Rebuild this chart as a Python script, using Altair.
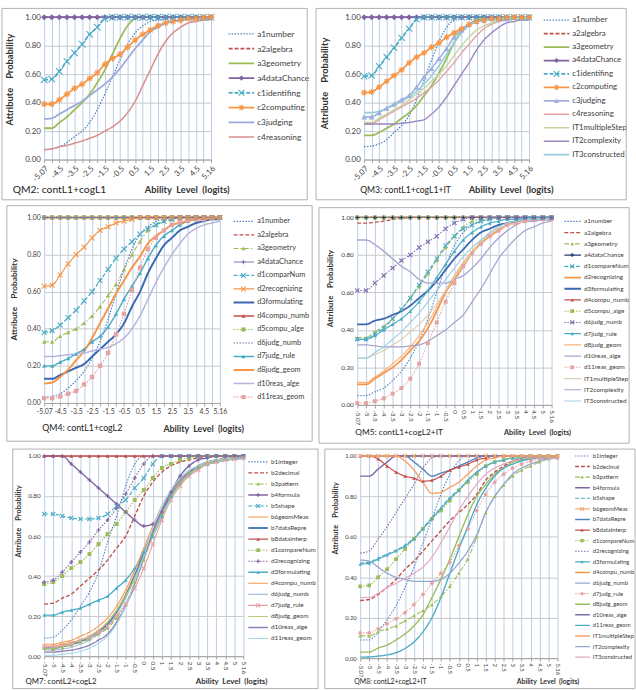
import altair as alt
import pandas as pd

FONT = "Lato"
TXT = "#404040"

X_LABELS = ["-5.07", "-5", "-4.5", "-4", "-3.5", "-3", "-2.5", "-2", "-1.5", "-1", "-0.5", "0",
            "0.5", "1", "1.5", "2", "2.5", "3", "3.5", "4", "4.5", "5", "5.16"]
ALT_LABELS = ["-5.07", "-4.5", "-3.5", "-2.5", "-1.5", "-0.5", "0.5", "1.5", "2.5", "3.5", "4.5", "5.16"]

# ---------------- QM2 ----------------
QM2_NAMES = ["a1number", "a2algebra", "a3geometry", "a4dataChance", "c1identifing", "c2computing",
             "c3judging", "c4reasoning"]
QM2_VALUES = {
    "a1number": [0.07, 0.075, 0.09, 0.12, 0.16, 0.20, 0.26, 0.35, 0.46, 0.58, 0.70, 0.81, 0.89, 0.94, 0.97, 0.98, 0.99, 0.995, 1, 1, 1, 1, 1],
    "a2algebra": [1, 1, 1, 1, 1, 1, 1, 1, 1, 1, 1, 1, 1, 1, 1, 1, 1, 1, 1, 1, 1, 1, 1],
    "a3geometry": [0.22, 0.22, 0.26, 0.30, 0.35, 0.40, 0.46, 0.54, 0.63, 0.74, 0.85, 0.94, 0.99, 1, 1, 1, 1, 1, 1, 1, 1, 1, 1],
    "a4dataChance": [1, 1, 1, 1, 1, 1, 1, 1, 1, 1, 1, 1, 1, 1, 1, 1, 1, 1, 1, 1, 1, 1, 1],
    "c1identifing": [0.56, 0.565, 0.62, 0.69, 0.75, 0.81, 0.88, 0.93, 0.99, 1, 1, 1, 1, 1, 1, 1, 1, 1, 1, 1, 1, 1, 1],
    "c2computing": [0.39, 0.39, 0.42, 0.46, 0.50, 0.53, 0.57, 0.61, 0.67, 0.71, 0.74, 0.79, 0.84, 0.88, 0.91, 0.94, 0.96, 0.97, 0.98, 0.99, 0.99, 1, 1],
    "c3judging": [0.285, 0.29, 0.32, 0.35, 0.38, 0.41, 0.45, 0.49, 0.53, 0.58, 0.64, 0.71, 0.78, 0.84, 0.90, 0.93, 0.96, 0.97, 0.98, 0.99, 0.99, 0.99, 0.99],
    "c4reasoning": [0.07, 0.075, 0.09, 0.10, 0.115, 0.13, 0.15, 0.17, 0.20, 0.23, 0.27, 0.33, 0.41, 0.52, 0.63, 0.74, 0.83, 0.89, 0.93, 0.96, 0.97, 0.98, 0.985],
}

# ---------------- QM3 ----------------
QM3_NAMES = ["a1number", "a2algebra", "a3geometry", "a4dataChance", "c1identifing", "c2computing",
             "c3judging", "c4reasoning", "IT1multipleStep", "IT2complexity", "IT3constructed"]
QM3_VALUES = {
    "a1number": [0.09, 0.095, 0.11, 0.14, 0.19, 0.24, 0.31, 0.42, 0.56, 0.70, 0.83, 0.93, 0.98, 1, 1, 1, 1, 1, 1, 1, 1, 1, 1],
    "a2algebra": [1, 1, 1, 1, 1, 1, 1, 1, 1, 1, 1, 1, 1, 1, 1, 1, 1, 1, 1, 1, 1, 1, 1],
    "a3geometry": [0.17, 0.17, 0.19, 0.22, 0.25, 0.29, 0.33, 0.38, 0.45, 0.52, 0.61, 0.71, 0.82, 0.90, 0.95, 0.98, 0.99, 1, 1, 1, 1, 1, 1],
    "a4dataChance": [1, 1, 1, 1, 1, 1, 1, 1, 1, 1, 1, 1, 1, 1, 1, 1, 1, 1, 1, 1, 1, 1, 1],
    "c1identifing": [0.585, 0.59, 0.655, 0.72, 0.785, 0.855, 0.92, 0.985, 1, 1, 1, 1, 1, 1, 1, 1, 1, 1, 1, 1, 1, 1, 1],
    "c2computing": [0.47, 0.475, 0.51, 0.55, 0.59, 0.63, 0.68, 0.72, 0.75, 0.79, 0.82, 0.86, 0.89, 0.92, 0.95, 0.97, 0.98, 0.99, 0.99, 1, 1, 1, 1],
    "c3judging": [0.30, 0.30, 0.33, 0.36, 0.39, 0.42, 0.45, 0.51, 0.58, 0.64, 0.71, 0.78, 0.86, 0.91, 0.95, 0.97, 0.98, 0.99, 0.99, 0.99, 1, 1, 1],
    "c4reasoning": [0.25, 0.25, 0.28, 0.31, 0.34, 0.37, 0.40, 0.43, 0.47, 0.51, 0.56, 0.62, 0.68, 0.75, 0.81, 0.87, 0.92, 0.95, 0.97, 0.98, 0.99, 0.99, 0.99],
    "IT1multipleStep": [0.26, 0.26, 0.29, 0.32, 0.35, 0.38, 0.42, 0.46, 0.50, 0.55, 0.60, 0.66, 0.73, 0.80, 0.86, 0.91, 0.94, 0.96, 0.98, 0.99, 0.99, 0.99, 0.99],
    "IT2complexity": [0.25, 0.25, 0.25, 0.25, 0.25, 0.255, 0.26, 0.27, 0.28, 0.32, 0.37, 0.44, 0.52, 0.60, 0.68, 0.77, 0.84, 0.89, 0.93, 0.96, 0.97, 0.98, 0.98],
    "IT3constructed": [0.33, 0.33, 0.34, 0.36, 0.38, 0.41, 0.44, 0.48, 0.53, 0.59, 0.66, 0.74, 0.82, 0.89, 0.94, 0.97, 0.98, 0.99, 0.99, 1, 1, 1, 1],
}

# ---------------- QM4 ----------------
QM4_NAMES = ["a1number", "a2algebra", "a3geometry", "a4dataChance", "d1comparNum", "d2recognizing",
             "d3formulating", "d4compu_numb", "d5compu_alge", "d6judg_numb", "d7judg_rule", "d8judg_geom",
             "d10reas_alge", "d11reas_geom"]
QM4_VALUES = {
    "a1number": [0.03, 0.035, 0.05, 0.08, 0.12, 0.17, 0.24, 0.33, 0.45, 0.59, 0.72, 0.83, 0.91, 0.95, 0.98, 0.99, 1, 1, 1, 1, 1, 1, 1],
    "a2algebra": [1, 1, 1, 1, 1, 1, 1, 1, 1, 1, 1, 1, 1, 1, 1, 1, 1, 1, 1, 1, 1, 1, 1],
    "a3geometry": [0.33, 0.33, 0.36, 0.38, 0.40, 0.43, 0.47, 0.52, 0.58, 0.64, 0.72, 0.80, 0.87, 0.93, 0.96, 0.98, 0.99, 1, 1, 1, 1, 1, 1],
    "a4dataChance": [1, 1, 1, 1, 1, 1, 1, 1, 1, 1, 1, 1, 1, 1, 1, 1, 1, 1, 1, 1, 1, 1, 1],
    "d1comparNum": [0.38, 0.39, 0.42, 0.46, 0.50, 0.55, 0.60, 0.66, 0.72, 0.78, 0.83, 0.87, 0.91, 0.94, 0.96, 0.98, 0.99, 1, 1, 1, 1, 1, 1],
    "d2recognizing": [0.63, 0.635, 0.69, 0.75, 0.80, 0.84, 0.89, 0.93, 0.95, 0.97, 0.98, 0.99, 1, 1, 1, 1, 1, 1, 1, 1, 1, 1, 1],
    "d3formulating": [0.13, 0.13, 0.15, 0.17, 0.19, 0.21, 0.25, 0.29, 0.33, 0.37, 0.43, 0.52, 0.60, 0.70, 0.78, 0.85, 0.89, 0.93, 0.95, 0.97, 0.98, 0.99, 0.99],
    "d4compu_numb": [1, 1, 1, 1, 1, 1, 1, 1, 1, 1, 1, 1, 1, 1, 1, 1, 1, 1, 1, 1, 1, 1, 1],
    "d5compu_alge": [1, 1, 1, 1, 1, 1, 1, 1, 1, 1, 1, 1, 1, 1, 1, 1, 1, 1, 1, 1, 1, 1, 1],
    "d6judg_numb": [1, 1, 1, 1, 1, 1, 1, 1, 1, 1, 1, 1, 1, 1, 1, 1, 1, 1, 1, 1, 1, 1, 1],
    "d7judg_rule": [0.20, 0.20, 0.22, 0.24, 0.265, 0.29, 0.33, 0.36, 0.41, 0.48, 0.56, 0.63, 0.70, 0.78, 0.85, 0.90, 0.93, 0.96, 0.98, 0.99, 0.99, 1, 1],
    "d8judg_geom": [0.105, 0.11, 0.14, 0.18, 0.23, 0.28, 0.35, 0.43, 0.51, 0.59, 0.66, 0.73, 0.79, 0.86, 0.90, 0.93, 0.96, 0.97, 0.98, 0.99, 0.99, 1, 1],
    "d10reas_alge": [0.25, 0.25, 0.255, 0.26, 0.265, 0.27, 0.28, 0.29, 0.30, 0.32, 0.35, 0.40, 0.47, 0.56, 0.65, 0.73, 0.80, 0.86, 0.91, 0.94, 0.96, 0.97, 0.98],
    "d11reas_geom": [0.026, 0.026, 0.035, 0.05, 0.065, 0.10, 0.14, 0.20, 0.27, 0.37, 0.48, 0.61, 0.73, 0.83, 0.89, 0.93, 0.96, 0.975, 0.985, 0.99, 0.99, 1, 1],
}

# ---------------- QM5 ----------------
QM5_NAMES = ["a1number", "a2algebra", "a3geometry", "a4dataChance", "d1compareNum", "d2recognizing",
             "d3formulating", "d4compu_numb", "d5compu_alge", "d6judg_numb", "d7judg_rule", "d8judg_geom",
             "d10reas_alge", "d11reas_geom", "IT1multipleStep", "IT2complexity", "IT3constructed"]
QM5_VALUES = {
    "a1number": [0.05, 0.05, 0.07, 0.09, 0.13, 0.18, 0.25, 0.34, 0.46, 0.60, 0.74, 0.85, 0.92, 0.96, 0.98, 0.99, 1, 1, 1, 1, 1, 1, 1],
    "a2algebra": [0.97, 0.97, 0.975, 0.98, 0.99, 0.995, 1, 1, 1, 1, 1, 1, 1, 1, 1, 1, 1, 1, 1, 1, 1, 1, 1],
    "a3geometry": [0.36, 0.36, 0.39, 0.42, 0.46, 0.51, 0.57, 0.63, 0.70, 0.77, 0.84, 0.90, 0.95, 0.98, 0.99, 1, 1, 1, 1, 1, 1, 1, 1],
    "a4dataChance": [1, 1, 1, 1, 1, 1, 1, 1, 1, 1, 1, 1, 1, 1, 1, 1, 1, 1, 1, 1, 1, 1, 1],
    "d1compareNum": [0.35, 0.35, 0.38, 0.41, 0.46, 0.51, 0.57, 0.64, 0.71, 0.78, 0.85, 0.90, 0.94, 0.96, 0.98, 0.99, 1, 1, 1, 1, 1, 1, 1],
    "d2recognizing": [0.11, 0.11, 0.14, 0.17, 0.20, 0.24, 0.29, 0.34, 0.41, 0.50, 0.60, 0.67, 0.74, 0.81, 0.86, 0.90, 0.93, 0.96, 0.97, 0.98, 0.99, 0.99, 0.99],
    "d3formulating": [0.43, 0.43, 0.45, 0.46, 0.48, 0.50, 0.53, 0.57, 0.61, 0.66, 0.72, 0.78, 0.83, 0.88, 0.92, 0.94, 0.96, 0.97, 0.98, 0.99, 0.99, 0.99, 0.99],
    "d4compu_numb": [1, 1, 1, 1, 1, 1, 1, 1, 1, 1, 1, 1, 1, 1, 1, 1, 1, 1, 1, 1, 1, 1, 1],
    "d5compu_alge": [1, 1, 1, 1, 1, 1, 1, 1, 1, 1, 1, 1, 1, 1, 1, 1, 1, 1, 1, 1, 1, 1, 1],
    "d6judg_numb": [0.61, 0.61, 0.65, 0.69, 0.73, 0.77, 0.80, 0.84, 0.87, 0.90, 0.94, 0.97, 0.99, 1, 1, 1, 1, 1, 1, 1, 1, 1, 1],
    "d7judg_rule": [0.35, 0.35, 0.37, 0.40, 0.43, 0.46, 0.50, 0.55, 0.61, 0.68, 0.75, 0.82, 0.88, 0.92, 0.95, 0.97, 0.98, 0.99, 0.99, 1, 1, 1, 1],
    "d8judg_geom": [0.12, 0.12, 0.15, 0.18, 0.22, 0.26, 0.31, 0.37, 0.44, 0.52, 0.61, 0.69, 0.76, 0.82, 0.87, 0.91, 0.94, 0.96, 0.97, 0.98, 0.99, 0.99, 0.99],
    "d10reas_alge": [0.88, 0.88, 0.855, 0.82, 0.78, 0.74, 0.71, 0.67, 0.65, 0.65, 0.65, 0.67, 0.69, 0.73, 0.78, 0.84, 0.89, 0.93, 0.96, 0.98, 0.98, 0.99, 0.99],
    "d11reas_geom": [0.01, 0.01, 0.02, 0.035, 0.06, 0.09, 0.14, 0.22, 0.33, 0.44, 0.55, 0.65, 0.74, 0.81, 0.86, 0.90, 0.93, 0.96, 0.97, 0.98, 0.99, 0.99, 0.99],
    "IT1multipleStep": [0.25, 0.25, 0.27, 0.29, 0.32, 0.35, 0.39, 0.43, 0.48, 0.54, 0.61, 0.68, 0.75, 0.81, 0.87, 0.91, 0.94, 0.96, 0.97, 0.98, 0.99, 0.99, 0.99],
    "IT2complexity": [0.32, 0.32, 0.315, 0.31, 0.31, 0.31, 0.315, 0.32, 0.34, 0.37, 0.40, 0.44, 0.48, 0.55, 0.62, 0.70, 0.78, 0.84, 0.89, 0.93, 0.95, 0.97, 0.98],
    "IT3constructed": [0.25, 0.25, 0.28, 0.31, 0.35, 0.39, 0.44, 0.49, 0.55, 0.61, 0.67, 0.73, 0.79, 0.84, 0.88, 0.92, 0.95, 0.97, 0.98, 0.99, 0.99, 0.99, 0.99],
}

# ---------------- QM7 ----------------
QM7_NAMES = ["b1integer", "b2decimal", "b3pattern", "b4formula", "b5shape", "b6geomMeas", "b7dataRepre",
             "b8dataInterp", "d1compareNum", "d2recognizing", "d3formulating", "d4compu_numb", "d6judg_numb",
             "d7judg_rule", "d8judg_geom", "d10reas_alge", "d11reas_geom"]
QM7_VALUES = {
    "b1integer": [0.09, 0.095, 0.13, 0.18, 0.25, 0.32, 0.42, 0.57, 0.70, 0.85, 0.96, 1, 1, 1, 1, 1, 1, 1, 1, 1, 1, 1, 1],
    "b2decimal": [0.26, 0.265, 0.29, 0.31, 0.35, 0.39, 0.43, 0.48, 0.54, 0.60, 0.70, 0.80, 0.87, 0.92, 0.95, 0.97, 0.98, 0.99, 0.99, 1, 1, 1, 1],
    "b3pattern": [0.04, 0.035, 0.045, 0.055, 0.07, 0.085, 0.11, 0.14, 0.19, 0.26, 0.37, 0.48, 0.60, 0.71, 0.80, 0.87, 0.92, 0.95, 0.97, 0.98, 0.99, 0.99, 0.99],
    "b4formula": [1, 1, 1, 0.96, 0.92, 0.88, 0.84, 0.80, 0.76, 0.72, 0.68, 0.65, 0.66, 0.72, 0.82, 0.90, 0.95, 0.98, 0.99, 1, 1, 1, 1],
    "b5shape": [0.71, 0.71, 0.70, 0.69, 0.685, 0.685, 0.69, 0.71, 0.75, 0.78, 0.84, 0.89, 0.96, 1, 1, 1, 1, 1, 1, 1, 1, 1, 1],
    "b6geomMeas": [0.05, 0.05, 0.06, 0.07, 0.08, 0.10, 0.13, 0.17, 0.23, 0.31, 0.41, 0.52, 0.63, 0.73, 0.81, 0.87, 0.91, 0.94, 0.96, 0.97, 0.98, 0.985, 0.99],
    "b7dataRepre": [0.04, 0.04, 0.05, 0.06, 0.075, 0.095, 0.12, 0.16, 0.22, 0.30, 0.40, 0.51, 0.62, 0.72, 0.80, 0.86, 0.91, 0.94, 0.96, 0.97, 0.98, 0.985, 0.99],
    "b8dataInterp": [1, 1, 1, 1, 1, 1, 1, 1, 1, 1, 1, 1, 1, 1, 1, 1, 1, 1, 1, 1, 1, 1, 1],
    "d1compareNum": [0.36, 0.37, 0.40, 0.44, 0.47, 0.51, 0.56, 0.61, 0.66, 0.72, 0.78, 0.83, 0.89, 0.94, 0.96, 0.98, 0.99, 1, 1, 1, 1, 1, 1],
    "d2recognizing": [0.37, 0.38, 0.42, 0.47, 0.52, 0.57, 0.63, 0.68, 0.74, 0.81, 0.89, 0.96, 1, 1, 1, 1, 1, 1, 1, 1, 1, 1, 1],
    "d3formulating": [0.205, 0.205, 0.22, 0.23, 0.24, 0.26, 0.28, 0.30, 0.34, 0.38, 0.44, 0.52, 0.60, 0.70, 0.80, 0.86, 0.91, 0.94, 0.96, 0.975, 0.985, 0.99, 0.995],
    "d4compu_numb": [0.06, 0.06, 0.07, 0.08, 0.10, 0.12, 0.15, 0.19, 0.25, 0.33, 0.43, 0.54, 0.65, 0.75, 0.82, 0.88, 0.92, 0.95, 0.97, 0.98, 0.985, 0.99, 0.99],
    "d6judg_numb": [0.03, 0.03, 0.035, 0.045, 0.06, 0.08, 0.11, 0.15, 0.21, 0.29, 0.39, 0.50, 0.61, 0.71, 0.79, 0.86, 0.90, 0.94, 0.96, 0.97, 0.98, 0.985, 0.99],
    "d7judg_rule": [0.05, 0.05, 0.055, 0.065, 0.08, 0.095, 0.12, 0.15, 0.20, 0.26, 0.34, 0.44, 0.56, 0.68, 0.78, 0.85, 0.90, 0.93, 0.96, 0.97, 0.98, 0.985, 0.99],
    "d8judg_geom": [0.04, 0.04, 0.05, 0.06, 0.08, 0.10, 0.13, 0.17, 0.23, 0.30, 0.39, 0.49, 0.60, 0.70, 0.79, 0.86, 0.91, 0.94, 0.96, 0.97, 0.98, 0.985, 0.99],
    "d10reas_alge": [0.02, 0.02, 0.025, 0.03, 0.04, 0.055, 0.08, 0.11, 0.17, 0.25, 0.36, 0.49, 0.62, 0.73, 0.82, 0.88, 0.92, 0.95, 0.97, 0.98, 0.985, 0.99, 0.99],
    "d11reas_geom": [0.005, 0.005, 0.01, 0.015, 0.025, 0.04, 0.065, 0.10, 0.16, 0.25, 0.37, 0.50, 0.64, 0.75, 0.83, 0.89, 0.93, 0.95, 0.97, 0.98, 0.985, 0.99, 0.99],
}

# ---------------- QM8 ----------------
QM8_NAMES = ["b1integer", "b2decimal", "b3pattern", "b4formula", "b5shape", "b6geomMeas", "b7dataRepre",
             "b8dataInterp", "d1compareNum", "d2recognizing", "d3formulating", "d4compu_numb", "d6judg_numb",
             "d7judg_rule", "d8judg_geom", "d10reas_alge", "d11reas_geom", "IT1multipleStep", "IT2complexity",
             "IT3constructed"]
QM8_VALUES = {
    "b1integer": [0.09, 0.09, 0.13, 0.19, 0.26, 0.35, 0.45, 0.57, 0.69, 0.81, 0.91, 0.975, 1, 1, 1, 1, 1, 1, 1, 1, 1, 1, 1],
    "b2decimal": [0.285, 0.29, 0.315, 0.35, 0.39, 0.44, 0.48, 0.53, 0.58, 0.63, 0.68, 0.72, 0.76, 0.81, 0.88, 0.92, 0.95, 0.975, 0.985, 0.99, 0.99, 1, 1],
    "b3pattern": [0.11, 0.11, 0.13, 0.145, 0.16, 0.185, 0.21, 0.235, 0.265, 0.305, 0.355, 0.42, 0.49, 0.60, 0.72, 0.80, 0.855, 0.90, 0.93, 0.95, 0.97, 0.985, 0.99],
    "b4formula": [0.90, 0.90, 0.935, 0.97, 1, 1, 1, 1, 1, 1, 1, 1, 1, 1, 1, 1, 1, 1, 1, 1, 1, 1, 1],
    "b5shape": [0.47, 0.475, 0.495, 0.515, 0.535, 0.56, 0.595, 0.645, 0.695, 0.745, 0.795, 0.835, 0.88, 0.92, 0.95, 0.97, 0.98, 0.99, 0.99, 1, 1, 1, 1],
    "b6geomMeas": [1, 1, 1, 1, 1, 1, 1, 1, 1, 1, 1, 1, 1, 1, 1, 1, 1, 1, 1, 1, 1, 1, 1],
    "b7dataRepre": [1, 1, 1, 1, 1, 1, 0.97, 0.935, 0.90, 0.915, 0.93, 0.95, 0.97, 0.99, 1, 1, 1, 1, 1, 1, 1, 1, 1],
    "b8dataInterp": [1, 1, 0.985, 0.95, 0.92, 0.90, 0.89, 0.875, 0.88, 0.90, 0.93, 0.945, 0.96, 0.98, 0.99, 1, 1, 1, 1, 1, 1, 1, 1],
    "d1compareNum": [0.355, 0.36, 0.40, 0.44, 0.49, 0.54, 0.59, 0.64, 0.69, 0.73, 0.78, 0.83, 0.87, 0.91, 0.95, 0.97, 0.98, 0.99, 0.99, 1, 1, 1, 1],
    "d2recognizing": [0.52, 0.53, 0.59, 0.65, 0.72, 0.79, 0.86, 0.94, 0.99, 1, 1, 1, 1, 1, 1, 1, 1, 1, 1, 1, 1, 1, 1],
    "d3formulating": [0.465, 0.47, 0.49, 0.51, 0.53, 0.555, 0.59, 0.64, 0.69, 0.74, 0.79, 0.83, 0.88, 0.92, 0.95, 0.97, 0.98, 0.99, 0.99, 1, 1, 1, 1],
    "d4compu_numb": [1, 1, 1, 1, 1, 1, 1, 1, 1, 1, 1, 1, 1, 1, 1, 1, 1, 1, 1, 1, 1, 1, 1],
    "d6judg_numb": [1, 1, 1, 1, 1, 1, 1, 1, 1, 1, 1, 1, 1, 1, 1, 1, 1, 1, 1, 1, 1, 1, 1],
    "d7judg_rule": [0.125, 0.125, 0.145, 0.17, 0.195, 0.225, 0.265, 0.315, 0.37, 0.42, 0.475, 0.555, 0.64, 0.73, 0.81, 0.87, 0.91, 0.94, 0.96, 0.975, 0.985, 0.99, 0.99],
    "d8judg_geom": [0.03, 0.03, 0.05, 0.065, 0.09, 0.12, 0.16, 0.215, 0.30, 0.39, 0.49, 0.60, 0.71, 0.80, 0.86, 0.91, 0.94, 0.97, 0.98, 0.985, 0.99, 0.99, 0.99],
    "d10reas_alge": [1, 1, 1, 1, 1, 1, 1, 1, 1, 1, 1, 1, 1, 1, 1, 1, 1, 1, 1, 1, 1, 1, 1],
    "d11reas_geom": [0.005, 0.006, 0.01, 0.016, 0.027, 0.048, 0.08, 0.13, 0.20, 0.30, 0.42, 0.54, 0.65, 0.76, 0.84, 0.90, 0.94, 0.96, 0.975, 0.985, 0.99, 0.99, 0.99],
    "IT1multipleStep": [1, 1, 1, 1, 1, 0.975, 0.93, 0.87, 0.815, 0.82, 0.845, 0.87, 0.91, 0.95, 0.98, 0.99, 1, 1, 1, 1, 1, 1, 1],
    "IT2complexity": [0.485, 0.48, 0.45, 0.42, 0.40, 0.39, 0.38, 0.38, 0.38, 0.39, 0.42, 0.47, 0.53, 0.61, 0.72, 0.80, 0.86, 0.91, 0.94, 0.96, 0.975, 0.985, 0.99],
    "IT3constructed": [0.30, 0.30, 0.32, 0.35, 0.37, 0.395, 0.42, 0.45, 0.50, 0.57, 0.65, 0.73, 0.80, 0.86, 0.91, 0.94, 0.96, 0.975, 0.985, 0.99, 0.99, 0.99, 0.99],
}

# ---------------- styles ----------------
DOT = [1.5, 1.5]
DASH = [4, 2]
DASHDOT = [5, 2, 1.5, 2]
SOLID = [1, 0]
BLUE, RED, GREEN, PURPLE, AQUA, ORANGE = "#4F81BD", "#C0504D", "#9BBB59", "#8064A2", "#4BACC6", "#F79646"

FILLED = {"diamond": "diamond", "triangle": "triangle-up", "square": "square", "circle": "circle"}
STROKED = {"x": "M-1,-1L1,1M-1,1L1,-1", "plus": "M-1,0L1,0M0,-1L0,1",
           "star": "M-1,0L1,0M0,-1L0,1M-0.7,-0.7L0.7,0.7M-0.7,0.7L0.7,-0.7"}

QM2_STYLE = {
    "a1number": (BLUE, DOT, 1.3, None), "a2algebra": (RED, DASH, 1.6, None),
    "a3geometry": (GREEN, SOLID, 1.8, None), "a4dataChance": (PURPLE, SOLID, 1.8, "diamond"),
    "c1identifing": (AQUA, DASH, 1.8, "x"), "c2computing": (ORANGE, SOLID, 1.8, "star"),
    "c3judging": ("#9AAAD8", SOLID, 1.8, None), "c4reasoning": ("#D9908E", SOLID, 1.6, None),
}
QM3_STYLE = {
    "a1number": (BLUE, DOT, 1.3, None), "a2algebra": (RED, DASH, 1.6, None),
    "a3geometry": (GREEN, SOLID, 1.8, None), "a4dataChance": (PURPLE, SOLID, 1.8, "diamond"),
    "c1identifing": (AQUA, DASH, 1.8, "x"), "c2computing": (ORANGE, SOLID, 1.8, "star"),
    "c3judging": ("#A1B0DC", SOLID, 1.6, "triangle"), "c4reasoning": ("#E3A3A1", SOLID, 1.4, None),
    "IT1multipleStep": ("#C3D69B", SOLID, 1.4, None), "IT2complexity": ("#9A86BE", SOLID, 1.4, None),
    "IT3constructed": ("#93CDDD", SOLID, 1.6, None),
}
QM4_STYLE = {
    "a1number": (BLUE, DOT, 1.2, None), "a2algebra": (RED, DASH, 1.4, None),
    "a3geometry": (GREEN, DASHDOT, 1.1, "triangle"), "a4dataChance": ("#7F7FB2", SOLID, 1.1, "plus"),
    "d1comparNum": (AQUA, DASH, 1.3, "x"), "d2recognizing": (ORANGE, SOLID, 1.2, "x"),
    "d3formulating": ("#3A67B0", SOLID, 2.0, None), "d4compu_numb": (RED, SOLID, 1.6, "triangle"),
    "d5compu_alge": (GREEN, DOT, 1.2, "square"), "d6judg_numb": (PURPLE, DOT, 1.2, None),
    "d7judg_rule": (AQUA, SOLID, 1.5, "triangle"), "d8judg_geom": (ORANGE, SOLID, 2.0, None),
    "d10reas_alge": ("#B4B4DC", SOLID, 1.5, None), "d11reas_geom": ("#E5A3A3", DOT, 1.2, "square"),
}
QM5_STYLE = {
    "a1number": (BLUE, DOT, 1.1, None), "a2algebra": (RED, DASH, 1.3, None),
    "a3geometry": (GREEN, DASHDOT, 1.1, "triangle"), "a4dataChance": ("#1F3A70", SOLID, 1.2, "plus"),
    "d1compareNum": (AQUA, DASH, 1.3, "x"), "d2recognizing": (ORANGE, SOLID, 1.8, None),
    "d3formulating": ("#3A67B0", SOLID, 1.8, None), "d4compu_numb": (RED, SOLID, 1.3, "triangle"),
    "d5compu_alge": (GREEN, DOT, 1.1, "square"), "d6judg_numb": ("#7F6FB0", DOT, 1.1, "x"),
    "d7judg_rule": (AQUA, SOLID, 1.2, "triangle"), "d8judg_geom": ("#F9B27A", SOLID, 1.2, None),
    "d10reas_alge": ("#A9A4CF", SOLID, 1.4, None), "d11reas_geom": ("#E5A3A3", DOT, 1.1, "square"),
    "IT1multipleStep": ("#D8CFB0", SOLID, 1.2, None), "IT2complexity": ("#A49EC8", SOLID, 1.2, None),
    "IT3constructed": ("#9DD0E4", SOLID, 1.2, None),
}
QM7_STYLE = {
    "b1integer": (BLUE, DOT, 1.1, None), "b2decimal": (RED, DASH, 1.4, None),
    "b3pattern": (GREEN, DASHDOT, 1.1, "triangle"), "b4formula": (PURPLE, SOLID, 1.4, "plus"),
    "b5shape": (AQUA, DASH, 1.2, "x"), "b6geomMeas": (ORANGE, SOLID, 1.1, None),
    "b7dataRepre": (BLUE, SOLID, 2.0, None), "b8dataInterp": (RED, SOLID, 1.4, "triangle"),
    "d1compareNum": (GREEN, DOT, 1.1, "square"), "d2recognizing": (PURPLE, DOT, 1.1, "plus"),
    "d3formulating": (AQUA, SOLID, 1.4, "triangle"), "d4compu_numb": (ORANGE, SOLID, 1.1, None),
    "d6judg_numb": ("#A6BDDF", SOLID, 1.1, None), "d7judg_rule": ("#E6A0A0", SOLID, 1.1, "x"),
    "d8judg_geom": ("#B5CC7A", SOLID, 1.1, None), "d10reas_alge": ("#8C7FB8", SOLID, 1.4, None),
    "d11reas_geom": ("#A3D7E3", SOLID, 1.1, None),
}
QM8_STYLE = {
    "b1integer": (BLUE, DOT, 1.1, None), "b2decimal": (RED, DASH, 1.4, None),
    "b3pattern": (GREEN, DASHDOT, 1.1, "triangle"), "b4formula": (PURPLE, SOLID, 1.4, None),
    "b5shape": (AQUA, DASH, 1.1, None), "b6geomMeas": ("#F2A875", SOLID, 1.1, "x"),
    "b7dataRepre": (BLUE, SOLID, 1.4, None), "b8dataInterp": (RED, SOLID, 1.2, "triangle"),
    "d1compareNum": (GREEN, DOT, 1.1, "square"), "d2recognizing": (PURPLE, DOT, 1.1, None),
    "d3formulating": (AQUA, SOLID, 1.2, "triangle"), "d4compu_numb": (ORANGE, SOLID, 1.4, None),
    "d6judg_numb": ("#95A9CF", SOLID, 1.2, None), "d7judg_rule": ("#E6A0A0", DOT, 1.1, "circle"),
    "d8judg_geom": (GREEN, SOLID, 1.4, None), "d10reas_alge": ("#7E6DA8", SOLID, 1.4, None),
    "d11reas_geom": (AQUA, SOLID, 1.4, None), "IT1multipleStep": ("#F7A36A", SOLID, 1.4, None),
    "IT2complexity": ("#95A9CF", SOLID, 1.4, None), "IT3constructed": ("#E3A6BF", SOLID, 1.2, None),
}

# ---------------- layout (absolute page coordinates) ----------------
GEOMS = [
    dict(plot=(44, 10, 170, 145), border=(1, 1, 312, 196), legend=(232, 258, 245, 261, 27, 132, 8.5),
         msize=(40, 45, 30, 35), qm=("QM2: contL1+cogL1", 12, 186, 10.5), xt=(146, 186, 9.5),
         yt=(9, 73, 9.5), labels="alt45", lab_fs=8, ylab_fs=8),
    dict(plot=(367, 10, 168, 145), border=(318, 1, 634, 196), legend=(550, 576, 563, 579, 13, 150, 8),
         msize=(36, 40, 28, 32), qm=("QM3: contL1+cogL1+IT", 363, 186, 8.8), xt=(473, 186, 9.5),
         yt=(327, 77, 9.5), labels="alt45", lab_fs=8, ylab_fs=8),
    dict(plot=(39, 213, 179, 189), border=(1, 201, 312, 441), legend=(232, 253, 242, 256, 217, 396, 7.5),
         msize=(20, 25, 18, 22), qm=("QM4: contL1+cogL2", 37, 428, 9), xt=(160, 428, 9),
         yt=(8, 296, 8.5), labels="alt0", lab_fs=7, ylab_fs=7),
    dict(plot=(357, 211, 198, 191), border=(318, 201, 634, 441), legend=(568, 585, 576, 588, 215, 398, 6.5),
         msize=(16, 18, 14, 16), qm=("QM5: contL1+cogL2+IT", 355, 430, 8.5), xt=(506, 430, 7.5),
         yt=(330, 283, 8), labels="all90", lab_fs=6.5, ylab_fs=6.5),
    dict(plot=(33, 452, 203, 204), border=(1, 445, 312, 689), legend=(241, 261, 251, 264, 458, 638, 6.5),
         msize=(16, 18, 14, 16), qm=("QM7: contL2+cogL2", 14, 682, 8), xt=(187, 682, 8),
         yt=(7, 518, 7.5), labels="all90", lab_fs=6.5, ylab_fs=6.5),
    dict(plot=(354, 452, 201, 206), border=(318, 445, 634, 689), legend=(573, 588, 580, 591, 452, 657, 6),
         msize=(14, 16, 12, 14), qm=("QM8: contL2+cogL2+IT", 348, 682, 7), xt=(513, 682, 7),
         yt=(329, 515, 7.5), labels="all90", lab_fs=6, ylab_fs=6),
]


def panel(names, values, style, g):
    px, py, pw, ph = g["plot"]
    bx1, by1, bx2, by2 = g["border"]
    lx1, lx2, lmx, ltx, ly1, ly2, lfs = g["legend"]
    ms_f, ms_s, lms_f, lms_s = g["msize"]

    def rx(v):
        return v - px

    def ry(v):
        return v - py

    color = alt.Color("series:N", scale=alt.Scale(domain=names, range=[style[n][0] for n in names]), legend=None)
    dash = alt.StrokeDash("series:N", scale=alt.Scale(domain=names, range=[style[n][1] for n in names]), legend=None)
    sw = alt.StrokeWidth("sw:Q", scale=None)

    rows, frows, srows, lf, ls = [], [], [], [], []
    for n in names:
        c, d, w, m = style[n]
        vals = values[n]
        assert len(vals) == len(X_LABELS), n
        for i, (xl, v) in enumerate(zip(X_LABELS, vals)):
            rows.append(dict(series=n, x=xl, i=i, p=v, sw=w))
            if m in FILLED:
                frows.append(dict(series=n, x=xl, p=v, shape=FILLED[m], sz=ms_f))
            elif m in STROKED:
                srows.append(dict(series=n, x=xl, p=v, shape=STROKED[m], sz=ms_s))
        if m in FILLED:
            lf.append(dict(series=n, shape=FILLED[m], sz=lms_f))
        elif m in STROKED:
            ls.append(dict(series=n, shape=STROKED[m], sz=lms_s))
    df = pd.DataFrame(rows)

    if g["labels"] == "alt45":
        lab = dict(labelAngle=315, labelExpr="indexof(%s, datum.label) >= 0 ? datum.label : ''" % str(ALT_LABELS).replace("'", '"'))
    elif g["labels"] == "alt0":
        lab = dict(labelAngle=0, labelExpr="indexof(%s, datum.label) >= 0 ? datum.label : ''" % str(ALT_LABELS).replace("'", '"'))
    else:
        lab = dict(labelAngle=90)

    x_axis = alt.Axis(
        title="Ability\u00a0 Level\u00a0 (logits)", titleX=g["xt"][0] - px, titleY=g["xt"][1] - (py + ph),
        titleAlign="left", titleBaseline="middle", titleAngle=0, titleFont=FONT, titleFontSize=g["xt"][2],
        titleFontWeight="bold", titleColor="#333333",
        labelFont=FONT, labelFontSize=g["lab_fs"], labelColor=TXT, labelPadding=2, labelOverlap=False,
        grid=True, gridColor="#B9CDE5", gridWidth=1, domainColor="#A0A0A0", tickColor="#A0A0A0",
        tickSize=3, **lab)
    y_axis = alt.Axis(
        values=[0, 0.2, 0.4, 0.6, 0.8, 1.0], format=".2f",
        title="Attribute\u00a0\u00a0\u00a0 Probability", titleX=g["yt"][0] - px, titleY=g["yt"][1] - py,
        titleAngle=270, titleAlign="center", titleBaseline="middle", titleFont=FONT, titleFontSize=g["yt"][2],
        titleFontWeight="bold", titleColor="#333333",
        labelFont=FONT, labelFontSize=g["ylab_fs"], labelColor=TXT, labelPadding=4,
        grid=True, gridColor="#C8C8C8", domain=False, ticks=False)

    xs = alt.Scale(type="point", domain=X_LABELS, padding=0)
    ys = alt.Scale(domain=[0, 1], nice=False)
    X = alt.X("x:O", sort=X_LABELS, scale=xs, axis=x_axis)
    Y = alt.Y("p:Q", scale=ys, axis=y_axis)

    layers = [alt.Chart(df).mark_line(interpolate="monotone").encode(
        x=X, y=Y, color=color, strokeDash=dash, strokeWidth=sw, order="i:Q")]
    if frows:
        layers.append(alt.Chart(pd.DataFrame(frows)).mark_point(filled=True, opacity=1, strokeWidth=0).encode(
            x=X, y=Y, color=color, shape=alt.Shape("shape:N", scale=None), size=alt.Size("sz:Q", scale=None)))
    if srows:
        layers.append(alt.Chart(pd.DataFrame(srows)).mark_point(filled=False, opacity=1, strokeWidth=1.1).encode(
            x=X, y=Y, color=color, shape=alt.Shape("shape:N", scale=None), size=alt.Size("sz:Q", scale=None)))
    plot = alt.layer(*layers)

    ldf = pd.DataFrame([dict(series=n, sw=style[n][2]) for n in names])
    LY = alt.Y("series:N", sort=names,
               scale=alt.Scale(type="point", domain=names, range=[ry(ly1), ry(ly2)], padding=0), axis=None)
    extra = [alt.Chart(ldf).mark_rule().encode(
        x=alt.value(rx(lx1)), x2=alt.value(rx(lx2)), y=LY, color=color, strokeDash=dash, strokeWidth=sw)]
    if lf:
        extra.append(alt.Chart(pd.DataFrame(lf)).mark_point(filled=True, opacity=1, strokeWidth=0).encode(
            x=alt.value(rx(lmx)), y=LY, color=color, shape=alt.Shape("shape:N", scale=None),
            size=alt.Size("sz:Q", scale=None)))
    if ls:
        extra.append(alt.Chart(pd.DataFrame(ls)).mark_point(filled=False, opacity=1, strokeWidth=1.1).encode(
            x=alt.value(rx(lmx)), y=LY, color=color, shape=alt.Shape("shape:N", scale=None),
            size=alt.Size("sz:Q", scale=None)))
    extra.append(alt.Chart(ldf).mark_text(align="left", baseline="middle", font=FONT, fontSize=lfs, color=TXT).encode(
        x=alt.value(rx(ltx)), y=LY, text="series:N"))

    one = pd.DataFrame({"k": [0]})
    extra.append(alt.Chart(one).mark_rect(fillOpacity=0, stroke="#AFAFAF", strokeWidth=1).encode(
        x=alt.value(rx(bx1)), x2=alt.value(rx(bx2)), y=alt.value(ry(by1)), y2=alt.value(ry(by2))))
    qt, qx, qy, qfs = g["qm"]
    extra.append(alt.Chart(one).mark_text(align="left", baseline="middle", font=FONT, fontSize=qfs,
                                          color="#222222").encode(
        x=alt.value(rx(qx)), y=alt.value(ry(qy)), text=alt.value(qt)))

    return alt.layer(plot, *extra).resolve_scale(y="independent").properties(width=pw, height=ph)


P = [panel(QM2_NAMES, QM2_VALUES, QM2_STYLE, GEOMS[0]),
     panel(QM3_NAMES, QM3_VALUES, QM3_STYLE, GEOMS[1]),
     panel(QM4_NAMES, QM4_VALUES, QM4_STYLE, GEOMS[2]),
     panel(QM5_NAMES, QM5_VALUES, QM5_STYLE, GEOMS[3]),
     panel(QM7_NAMES, QM7_VALUES, QM7_STYLE, GEOMS[4]),
     panel(QM8_NAMES, QM8_VALUES, QM8_STYLE, GEOMS[5])]

rows = [alt.hconcat(P[0], P[1], spacing=5).resolve_scale(color="independent", strokeDash="independent"),
        alt.hconcat(P[2], P[3], spacing=5).resolve_scale(color="independent", strokeDash="independent"),
        alt.hconcat(P[4], P[5], spacing=5).resolve_scale(color="independent", strokeDash="independent")]

chart = (alt.vconcat(*rows, spacing=4)
         .resolve_scale(color="independent", strokeDash="independent")
         .properties(padding={"left": 1, "top": 1, "right": 0, "bottom": 0}, background="white")
         .configure_view(stroke=None))

chart.save("out.html", embed_options={"renderer": "svg", "actions": False})
